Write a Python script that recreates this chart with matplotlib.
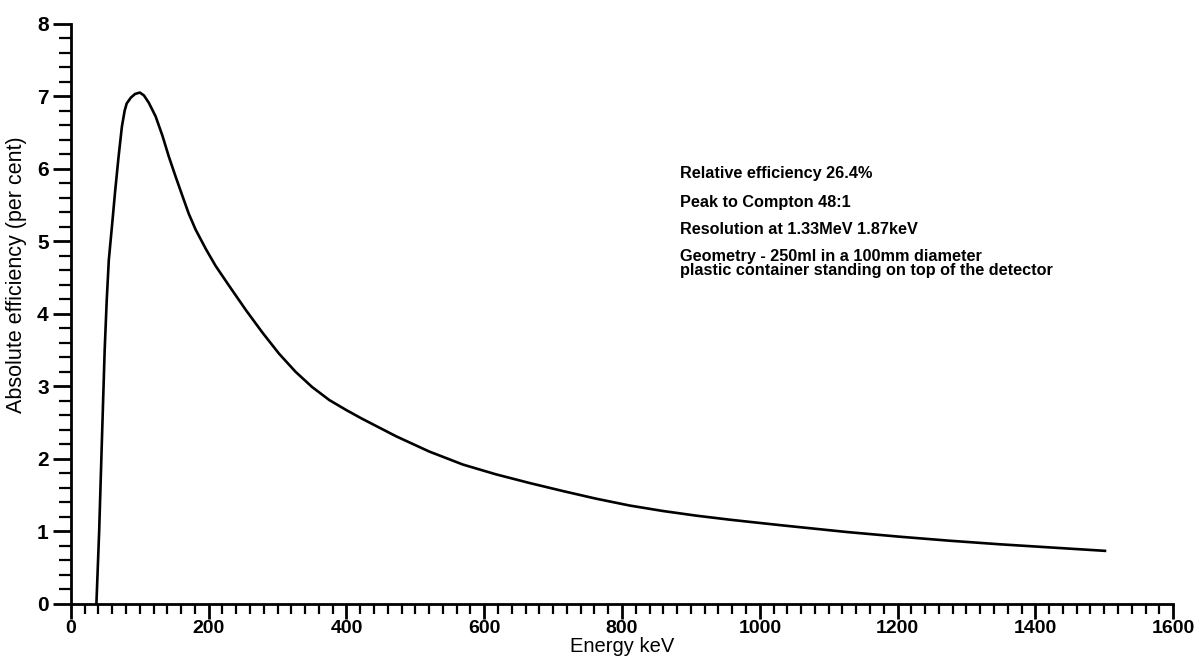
import numpy as np
import matplotlib.pyplot as plt
from matplotlib.ticker import MultipleLocator

plt.rcParams['font.family'] = ['Liberation Sans', 'DejaVu Sans']

# Efficiency curve
energy = [37, 41, 45, 49, 52, 55, 60, 64, 69, 74, 78, 81, 87, 93, 100, 106,
          113, 123, 133, 142, 152, 162, 171, 181, 196, 210, 230, 254, 278,
          302, 326, 350, 375, 400, 423, 472, 520, 569, 617, 666, 714, 762, 811,
          859, 908, 956, 985, 1034, 1080, 1126, 1203, 1275, 1349, 1425, 1501]
efficiency = [0.0, 1.0, 2.26, 3.5, 4.19, 4.74, 5.25, 5.67, 6.15, 6.58, 6.8,
              6.9, 6.98, 7.03, 7.05, 7.01, 6.91, 6.72, 6.45, 6.17, 5.89, 5.62,
              5.38, 5.16, 4.89, 4.66, 4.38, 4.05, 3.74, 3.45, 3.2, 2.99, 2.81,
              2.67, 2.55, 2.31, 2.10, 1.92, 1.785, 1.665, 1.555, 1.45, 1.355,
              1.28, 1.215, 1.16, 1.13, 1.08, 1.035, 0.99, 0.925, 0.87, 0.82,
              0.775, 0.73]

notes = ["Relative efficiency 26.4%",
         "Peak to Compton 48:1",
         "Resolution at 1.33MeV 1.87keV",
         "Geometry - 250ml in a 100mm diameter\nplastic container standing on top of the detector"]
note_y = [5.94, 5.54, 5.16, 4.69]

fig = plt.figure(figsize=(12.02, 6.57), dpi=100)
ax = fig.add_axes([0.059, 0.081, 0.917, 0.883])

ax.plot(energy, efficiency, color='black', lw=1.9, solid_joinstyle='round')

ax.set_xlim(0, 1600)
ax.set_ylim(0, 8)
ax.spines['top'].set_visible(False)
ax.spines['right'].set_visible(False)
for s in ['left', 'bottom']:
    ax.spines[s].set_linewidth(2)

ax.xaxis.set_major_locator(MultipleLocator(200))
ax.xaxis.set_minor_locator(MultipleLocator(20))
ax.yaxis.set_major_locator(MultipleLocator(1))
ax.yaxis.set_minor_locator(MultipleLocator(0.2))
ax.tick_params(axis='x', which='major', length=11, width=2, direction='out', labelsize=14, pad=1)
ax.tick_params(axis='x', which='minor', length=7, width=1.6, direction='out')
ax.tick_params(axis='y', which='major', length=13, width=2, direction='out', labelsize=15, pad=3)
ax.tick_params(axis='y', which='minor', length=9, width=1.6, direction='out')
for lab in ax.get_xticklabels() + ax.get_yticklabels():
    lab.set_fontweight('bold')

ax.set_xlabel("Energy keV", fontsize=14.5)
ax.xaxis.set_label_coords(0.5, -0.058)
ax.set_ylabel("Absolute efficiency (per cent)", fontsize=15.5)
ax.yaxis.set_label_coords(-0.04, 0.567)

for t, y in zip(notes, note_y):
    ax.text(884, y, t, fontsize=11.7, fontweight='bold', va='center', ha='left',
            linespacing=0.95)

fig.savefig("out.png", dpi=100)
